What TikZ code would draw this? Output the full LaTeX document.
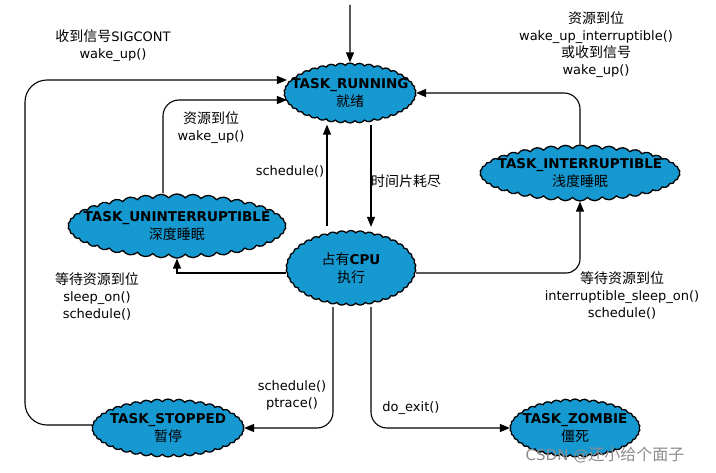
\documentclass[tikz,border=0pt]{standalone}
\usepackage{fontspec}
\setmainfont{DejaVu Sans}
\newfontfamily\cjk{Noto Sans CJK SC}
\usetikzlibrary{shapes.symbols,arrows.meta}
\definecolor{cloudblue}{RGB}{22,152,208}
\tikzset{
  st/.style={cloud, cloud puffs=42, cloud puff arc=100, cloud ignores aspect, draw=black, line width=1.3pt, fill=cloudblue, inner sep=0pt},
  sttext/.style={align=center, font=\fontsize{13.5}{18}\selectfont, inner sep=0pt},
  arr/.style={-{Triangle[length=10pt,width=8pt]}, line width=1.1pt},
  lbl/.style={align=center, font=\fontsize{13}{17}\selectfont, inner sep=0pt}
}
\newcommand{\tb}[1]{\textbf{#1}}
\newcommand{\zh}[1]{{\cjk\fontsize{14}{17}\selectfont #1}}
\begin{document}
\begin{tikzpicture}[x=1pt,y=-1pt]
\useasboundingbox (0,0) rectangle (716,473);
\fill[white] (0,0) rectangle (716,473);
% states
\node[st, minimum width=132, minimum height=60, label={[sttext]center:\tb{TASK\_RUNNING}\\\zh{就绪}}] (running) at (350,93) {};
\node[st, minimum width=200, minimum height=56, label={[sttext]center:\tb{TASK\_INTERRUPTIBLE}\\\zh{浅度睡眠}}] (interruptible) at (580,173) {};
\node[st, minimum width=218, minimum height=64, label={[sttext]center:\tb{TASK\_UNINTERRUPTIBLE}\\\zh{深度睡眠}}] (uninterruptible) at (177,226) {};
\node[st, minimum width=130, minimum height=75, label={[sttext]center:\zh{占有}\tb{CPU}\\\zh{执行}}] (cpu) at (351,268) {};
\node[st, minimum width=152, minimum height=58, label={[sttext]center:\tb{TASK\_STOPPED}\\\zh{暂停}}] (stopped) at (168,428) {};
\node[st, minimum width=130, minimum height=58, label={[sttext]center:\tb{TASK\_ZOMBIE}\\\zh{僵死}}] (zombie) at (575,428) {};
% helper coordinates
\coordinate (start) at (350,5);
\coordinate (b1) at (25,80);
\coordinate (b2) at (163,100);
\coordinate (x1) at (327,0);
\coordinate (x2) at (371,0);
\coordinate (b3) at (178,273);
\coordinate (b4) at (580,273);
\coordinate (b5) at (333,428);
\coordinate (b6) at (371,428);
% connectors
\draw[arr] (start) -- (running.north);
\draw[arr, rounded corners=22] (stopped.west |- 0,425) -| (b1) -- ([xshift=3]running.west |- b1);
\draw[arr, rounded corners=16] (uninterruptible.north -| b2) |- ([xshift=3]running.west |- b2);
\draw[arr] ([yshift=4]cpu.north -| x1) -- ([yshift=-1]running.south -| x1);
\draw[arr] ([yshift=-1]running.south -| x2) -- ([yshift=3]cpu.north -| x2);
\draw[arr, rounded corners=16] (interruptible.north) |- (running.east);
\draw[arr, rounded corners=14] (cpu.east |- b4) -| (interruptible.south);
\draw[arr] (cpu.west |- b3) -| (uninterruptible.south);
\draw[arr, rounded corners=16] ([yshift=-1]cpu.south -| b5) |- (stopped.east);
\draw[arr, rounded corners=16] ([yshift=-1]cpu.south -| b6) |- (zombie.west);
% labels
\node[lbl] (l1) at (113,46) {\zh{收到信号}SIGCONT\\wake\_up()};
\node[lbl] (l2) at (211,128) {\zh{资源到位}\\wake\_up()};
\node[lbl] (l3) at (290,171) {schedule()};
\node[lbl] (l4) at (406,181) {\zh{时间片耗尽}};
\node[lbl] (l5) at (596,45) {\zh{资源到位}\\wake\_up\_interruptible()\\\zh{或收到信号}\\wake\_up()};
\node[lbl] (l6) at (97,296) {\zh{等待资源到位}\\sleep\_on()\\schedule()};
\node[lbl] (l7) at (622,295) {\zh{等待资源到位}\\interruptible\_sleep\_on()\\schedule()};
\node[lbl] (l8) at (292,395) {schedule()\\ptrace()};
\node[lbl] (l9) at (411,408) {do\_exit()};
\node[lbl, text=black!45, font=\fontsize{15}{17}\selectfont] (wm) at (605,455) {CSDN @{\cjk\fontsize{16}{17}\selectfont 还小给个面子}};
\end{tikzpicture}
\end{document}
